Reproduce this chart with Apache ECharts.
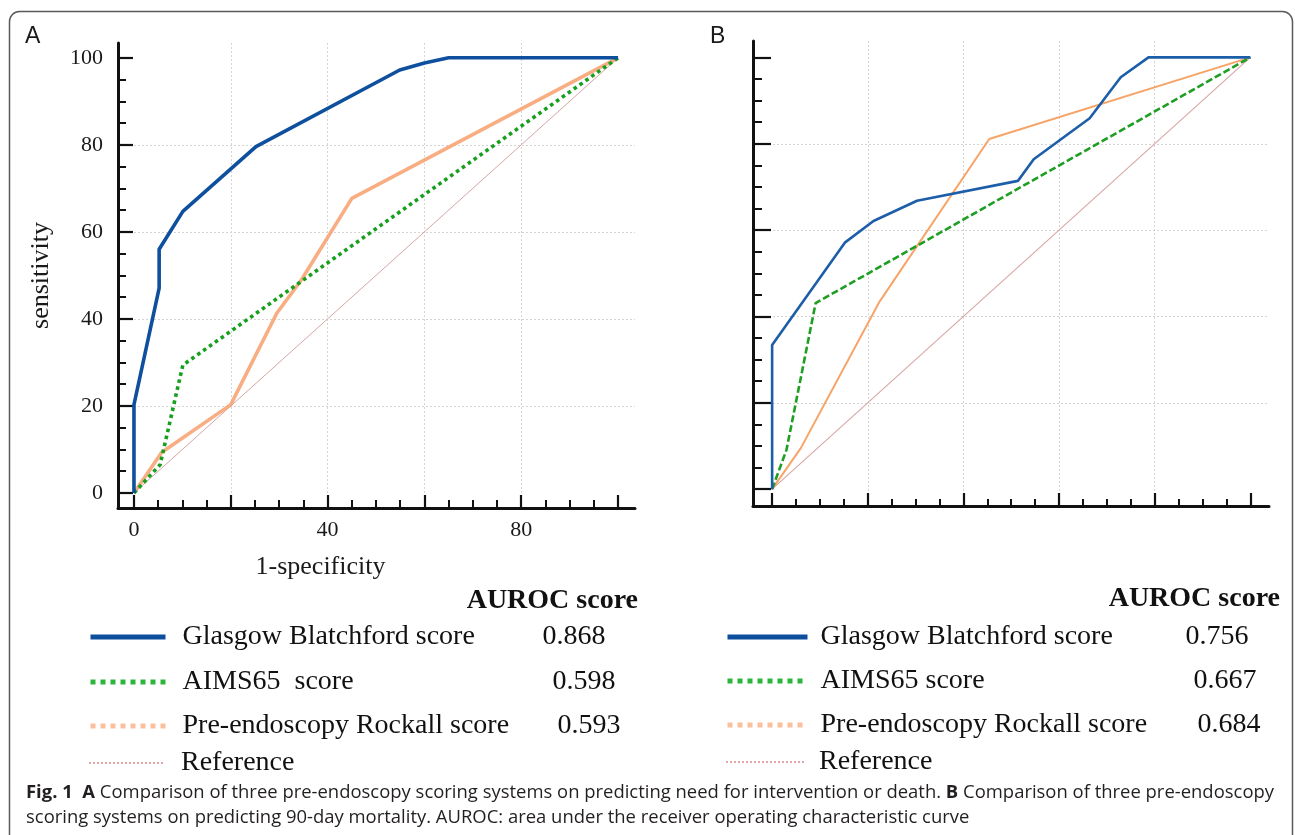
<!DOCTYPE html>
<html>
<head>
<meta charset="utf-8">
<script src="https://cdn.jsdelivr.net/npm/echarts@6/dist/echarts.min.js"></script>
<style>html,body{margin:0;padding:0;background:#fff}#c{width:1295px;height:835px}</style>
</head>
<body>
<div id="c"></div>
<script>
// ---------------- DATA ----------------
const seriesNamesA = ['Glasgow Blatchford score', 'AIMS65  score', 'Pre-endoscopy Rockall score', 'Reference'];
const seriesNamesB = ['Glasgow Blatchford score', 'AIMS65 score', 'Pre-endoscopy Rockall score', 'Reference'];
const aurocA = ['0.868', '0.598', '0.593'];
const aurocB = ['0.756', '0.667', '0.684'];

// Panel A: [1-specificity, sensitivity]
const gbsA  = [[0,0],[0,20.3],[5.2,47.1],[5.2,56],[10.1,64.7],[25.2,79.6],[54.9,97.2],[60,98.8],[65,100],[100,100]];
const aimsA = [[0,0],[5.4,6.5],[10.1,29.4],[100,100]];
const rockA = [[0,0],[5.7,9.3],[20,20.3],[29.5,41.3],[34.6,49],[45,67.7],[100,100]];
// Panel B
const gbsB  = [[0,0],[0,33.4],[15.2,57.1],[21.2,62.1],[30.3,66.8],[51.4,71.4],[54.7,76.4],[66.4,85.9],[72.9,95.4],[78.7,100],[100,100]];
const aimsB = [[0,0],[3,9.1],[9.1,43.1],[100,100]];
const rockB = [[0,0],[6,9.5],[22.5,43.5],[45.4,81.1],[100,100]];
// Reference diagonal (both panels)
const refLine = [[0,0],[100,100]];

// Ticks / labels
const majorTicks = [0, 20, 40, 60, 80, 100];
const minorTicks = [5, 10, 15, 25, 30, 35, 45, 50, 55, 65, 70, 75, 85, 90, 95];
const xLabelsA = [0, 40, 80];
const yLabelsA = [0, 20, 40, 60, 80, 100];

const captionLine1 = [
  ['Fig. 1', true], ['  ', false], ['A', true],
  [' Comparison of three pre-endoscopy scoring systems on predicting need for intervention or death. ', false],
  ['B', true], [' Comparison of three pre-endoscopy', false]
];
const captionLine2 = 'scoring systems on predicting 90-day mortality. AUROC: area under the receiver operating characteristic curve';

// ---------------- STYLE HELPERS ----------------
const SERIF = 'Liberation Serif';
const CAPFONT = 'Open Sans';
const LEGEND_FS = 28;

function mainAxis(dim, grid, min, max, len, labels, labelMargin, nameCfg) {
  const a = {
    type: 'value', gridIndex: grid, min: min, max: max,
    position: dim === 'x' ? 'bottom' : 'left',
    axisLine: { show: true, onZero: false, lineStyle: { color: '#111', width: 3 } },
    axisTick: { show: true, inside: true, length: len, customValues: majorTicks, lineStyle: { color: '#111', width: 2.2 } },
    axisLabel: labels ? { show: true, customValues: labels, margin: labelMargin, fontFamily: SERIF, fontSize: 22, color: '#1a1a1a' } : { show: false },
    splitLine: { show: true, showMinLine: false, showMaxLine: false, lineStyle: { color: '#d4d4d4', width: 1, type: [2, 2] } },
    nameMoveOverlap: false
  };
  if (nameCfg) Object.assign(a, nameCfg);
  return a;
}
function minorAxis(dim, grid, min, max, len) {
  return {
    type: 'value', gridIndex: grid, min: min, max: max,
    position: dim === 'x' ? 'bottom' : 'left',
    axisLine: { show: false, onZero: false },
    axisTick: { show: true, inside: true, length: len, customValues: minorTicks, lineStyle: { color: '#111', width: 2 } },
    axisLabel: { show: false },
    splitLine: { show: false }
  };
}

function lineSeries(name, data, xi, color, width, type, z, opacity) {
  return {
    type: 'line', name: name, data: data, xAxisIndex: xi, yAxisIndex: xi,
    symbol: 'none', showSymbol: false, smooth: false, z: z, silent: true,
    itemStyle: { color: color },
    lineStyle: { color: color, width: width, type: type, opacity: opacity == null ? 1 : opacity, cap: 'butt' },
    emphasis: { disabled: true }
  };
}

const legendIcons = [
  { color: '#0d4f9c', width: 5, type: 'solid' },
  { color: '#2bb53a', width: 5, type: 'dotted' },
  { color: '#fbb48c', width: 5, type: 'dotted' },
  { color: '#e2a6a6', width: 2, type: 'dotted' }
];

// one legend component per row so each row sits where it does in the figure
function legendRows(names, vals, left, rowsY, itemW, gapPad, nameWidths) {
  return names.map((n, i) => {
    const rich = {
      g: { width: gapPad, fontFamily: SERIF, fontSize: LEGEND_FS },
      n: { width: nameWidths[i], fontFamily: SERIF, fontSize: LEGEND_FS, color: '#111' },
      v: { fontFamily: SERIF, fontSize: LEGEND_FS, color: '#111' }
    };
    return {
      orient: 'vertical', left: left, top: rowsY[i] - 15, itemWidth: itemW, itemHeight: 14,
      selectedMode: false, padding: 0,
      data: [{ name: n, lineStyle: legendIcons[i], itemStyle: { opacity: 0, color: 'rgba(0,0,0,0)', borderWidth: 0 } }],
      formatter: function (name) {
        return '{g| }{n|' + name + '}' + (vals[i] ? '{v|' + vals[i] + '}' : '');
      },
      textStyle: { fontFamily: SERIF, fontSize: LEGEND_FS, color: '#111', lineHeight: 32, rich: rich }
    };
  });
}

// caption width fitting
const cv = document.createElement('canvas').getContext('2d');
function mw(t, bold) { cv.font = (bold ? 'bold ' : '') + '18px "' + CAPFONT + '"'; return cv.measureText(t).width; }
let w1 = 0; captionLine1.forEach(s => { w1 += mw(s[0], s[1]); });
const capScale = 1248 / w1;
const cap1Text = captionLine1.map(s => '{' + (s[1] ? 'b' : 'r') + '|' + s[0] + '}').join('');
const capRich = {
  b: { fontFamily: CAPFONT, fontSize: 18, fontWeight: 'bold', fill: '#231f20' },
  r: { fontFamily: CAPFONT, fontSize: 18, fill: '#231f20' }
};

// ---------------- CHART ----------------
const chart = echarts.init(document.getElementById('c'), null, { renderer: 'canvas' });
const option = {
  animation: false,
  backgroundColor: '#ffffff',
  grid: [
    { left: 118, right: 660, top: 43, bottom: 327, containLabel: false, outerBoundsMode: 'none' },
    { left: 753, right: 26, top: 41, bottom: 329, containLabel: false, outerBoundsMode: 'none' }
  ],
  xAxis: [
    mainAxis('x', 0, -3.3, 103.5, 13, xLabelsA, 11, {
      name: '1-specificity', nameLocation: 'middle', nameGap: 46,
      nameTextStyle: { fontFamily: SERIF, fontSize: 26, color: '#1a1a1a', padding: [0, 112, 0, 0] }
    }),
    minorAxis('x', 0, -3.3, 103.5, 8),
    mainAxis('x', 1, -4.0, 103.9, 13, null, 0, null),
    minorAxis('x', 1, -4.0, 103.9, 7)
  ],
  yAxis: [
    mainAxis('y', 0, -3.45, 103.4, 15, yLabelsA, 15, {
      name: 'sensitivity', nameLocation: 'middle', nameGap: 64,
      nameTextStyle: { fontFamily: SERIF, fontSize: 26, color: '#1a1a1a' }
    }),
    minorAxis('y', 0, -3.45, 103.4, 8),
    mainAxis('y', 1, -3.9, 103.8, 18, null, 0, null),
    minorAxis('y', 1, -3.9, 103.8, 9)
  ],
  legend: [].concat(
    legendRows(seriesNamesA, aurocA, 88, [636, 681, 725, 762], 75, 12, [360, 370, 375, 300]),
    legendRows(seriesNamesB, aurocB, 725, [636, 680, 724, 761], 80, 8, [365, 373, 377, 300])
  ),
  series: [
    lineSeries(seriesNamesA[3], refLine, 0, '#d6a5a5', 1, 'solid', 2),
    lineSeries(seriesNamesA[2], rockA, 0, '#f7a06c', 3.6, 'solid', 3, 0.85),
    lineSeries(seriesNamesA[1], aimsA, 0, '#16a01e', 3.6, 'dotted', 4),
    lineSeries(seriesNamesA[0], gbsA, 0, '#0e4f9e', 3.6, 'solid', 5),

    lineSeries(seriesNamesB[3], refLine, 2, '#d9a8a8', 1.2, 'solid', 2),
    lineSeries(seriesNamesB[2], rockB, 2, '#f7a468', 2, 'solid', 3),
    lineSeries(seriesNamesB[1], aimsB, 2, '#1e9e22', 2.6, [7, 3], 4),
    lineSeries(seriesNamesB[0], gbsB, 2, '#1d5ea8', 2.6, 'solid', 5)
  ],
  graphic: [
    { type: 'rect', z: -10, silent: true,
      shape: { x: 9.5, y: 11.5, width: 1283, height: 836, r: 10 },
      style: { fill: 'none', stroke: '#5a5a5a', lineWidth: 1.5 } },
    { type: 'text', x: 25, y: 37, silent: true,
      style: { text: 'A', fontFamily: 'Liberation Sans', fontSize: 23, fill: '#1a1a1a', verticalAlign: 'middle' } },
    { type: 'text', x: 710, y: 37, silent: true,
      style: { text: 'B', fontFamily: 'Liberation Sans', fontSize: 23, fill: '#1a1a1a', verticalAlign: 'middle' } },
    { type: 'text', x: 638, y: 601, silent: true,
      style: { text: 'AUROC score', fontFamily: SERIF, fontSize: LEGEND_FS, fontWeight: 'bold', fill: '#111', align: 'right', verticalAlign: 'middle' } },
    { type: 'text', x: 1280, y: 599, silent: true,
      style: { text: 'AUROC score', fontFamily: SERIF, fontSize: LEGEND_FS, fontWeight: 'bold', fill: '#111', align: 'right', verticalAlign: 'middle' } },
    { type: 'text', x: 26, y: 793, scaleX: capScale, silent: true,
      style: { text: cap1Text, rich: capRich, fontFamily: CAPFONT, fontSize: 18, fill: '#231f20', verticalAlign: 'middle' } },
    { type: 'text', x: 26, y: 818, scaleX: capScale, silent: true,
      style: { text: captionLine2, fontFamily: CAPFONT, fontSize: 18, fill: '#231f20', verticalAlign: 'middle' } }
  ]
};
chart.setOption(option);
</script>
</body>
</html>
